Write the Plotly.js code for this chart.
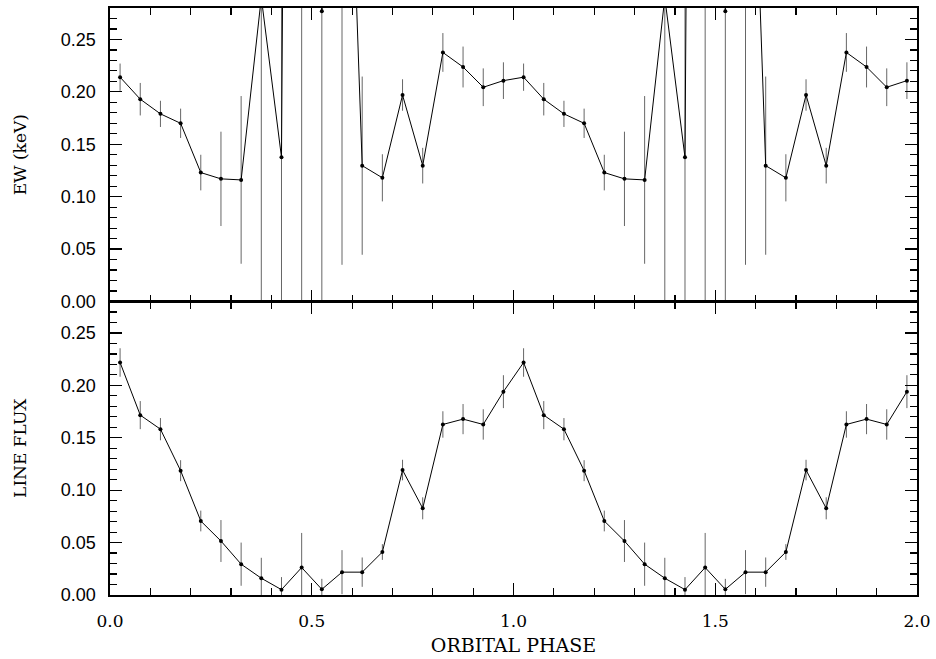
<!DOCTYPE html>
<html>
<head>
<meta charset="utf-8">
<script src="https://cdn.plot.ly/plotly-3.0.1.min.js"></script>
<style>
  html, body { margin: 0; padding: 0; background: #fff; }
  #chart { width: 936px; height: 659px; }
</style>
</head>
<body>
<div id="chart"></div>
<script>
// phase bins of one orbital cycle (the plot shows the cycle twice)
const phase = [0.025, 0.075, 0.125, 0.175, 0.225, 0.275, 0.325, 0.375, 0.425, 0.475,
               0.525, 0.575, 0.625, 0.675, 0.725, 0.775, 0.825, 0.875, 0.925, 0.975];

// equivalent width (keV) and 1-sigma errors
const ewVal = [0.214, 0.193, 0.179, 0.170, 0.123, 0.117, 0.116, 0.29, 0.1375, 3.0,
               0.277, 0.68, 0.1296, 0.118, 0.197, 0.1296, 0.2376, 0.2237, 0.2044, 0.2107];
const ewErr = [0.013, 0.0155, 0.0125, 0.014, 0.017, 0.045, 0.080, 0.35, 0.30, 3.0,
               0.35, 0.645, 0.085, 0.0225, 0.015, 0.017, 0.0185, 0.0195, 0.018, 0.0175];

// line flux and errors
const fluxVal = [0.2218, 0.1716, 0.1582, 0.1186, 0.0706, 0.0515, 0.0294, 0.016, 0.0051, 0.0262,
                 0.0054, 0.0218, 0.0218, 0.041, 0.1192, 0.0827, 0.1627, 0.1678, 0.1627, 0.194];
const fluxErr = [0.0136, 0.0134, 0.0106, 0.010, 0.0099, 0.020, 0.0206, 0.0195, 0.012, 0.033,
                 0.010, 0.021, 0.014, 0.0075, 0.0098, 0.0105, 0.0126, 0.0144, 0.0145, 0.0157];

// repeat the folded data over a second cycle
const xAll = phase.concat(phase.map(p => p + 1));
const twice = arr => arr.concat(arr);

const labelFont = "'DejaVu Serif', serif";

function series(y, err, xa, ya) {
    return {
        x: xAll,
        y: twice(y),
        xaxis: xa,
        yaxis: ya,
        type: 'scatter',
        mode: 'lines+markers',
        line: { color: '#000', width: 1 },
        marker: { color: '#000', size: 4 },
        error_y: { type: 'data', array: twice(err), visible: true, color: '#666', thickness: 1, width: 0 },
        hoverinfo: 'x+y'
    };
}

const data = [
    series(ewVal, ewErr, 'x', 'y'),
    series(fluxVal, fluxErr, 'x2', 'y2')
];

const xBase = {
    range: [0, 2],
    dtick: 0.5,
    ticks: 'inside',
    ticklen: 12,
    tickwidth: 1.2,
    tickcolor: '#000',
    minor: { dtick: 0.1, ticks: 'inside', ticklen: 7, tickwidth: 1.2, tickcolor: '#000' },
    showline: true,
    linecolor: '#000',
    linewidth: 1.6,
    mirror: 'ticks',
    showgrid: false,
    zeroline: false
};

const yBase = {
    range: [0, 0.28],
    dtick: 0.05,
    tickformat: '.2f',
    ticks: 'inside',
    ticklen: 12,
    tickwidth: 1.2,
    tickcolor: '#000',
    minor: { dtick: 0.01, ticks: 'inside', ticklen: 7, tickwidth: 1.2, tickcolor: '#000' },
    showline: true,
    linecolor: '#000',
    linewidth: 1.6,
    mirror: 'ticks',
    showgrid: false,
    zeroline: false,
    ticklabelstandoff: 9,
    tickfont: { family: 'Liberation Sans, Arial, sans-serif', size: 18, color: '#000' }
};

const layout = {
    width: 936,
    height: 659,
    margin: { l: 110, r: 19, t: 8, b: 64 },
    showlegend: false,
    paper_bgcolor: '#fff',
    plot_bgcolor: '#fff',
    xaxis: Object.assign({}, xBase, { anchor: 'y', showticklabels: false }),
    yaxis: Object.assign({}, yBase, {
        domain: [0.5, 1], anchor: 'x',
        title: { text: 'EW (keV)', font: { family: labelFont, size: 17, color: '#000' }, standoff: 30 }
    }),
    xaxis2: Object.assign({}, xBase, {
        anchor: 'y2',
        tickformat: '.1f',
        ticklabelstandoff: 10,
        tickfont: { family: labelFont, size: 17, color: '#000' },
        title: { text: 'ORBITAL PHASE', font: { family: labelFont, size: 19, color: '#000' }, standoff: 8 }
    }),
    yaxis2: Object.assign({}, yBase, {
        domain: [0, 0.5], anchor: 'x2',
        title: { text: 'LINE FLUX', font: { family: labelFont, size: 17, color: '#000' }, standoff: 30 }
    })
};

Plotly.newPlot('chart', data, layout, { displayModeBar: false, staticPlot: true });
</script>
</body>
</html>
